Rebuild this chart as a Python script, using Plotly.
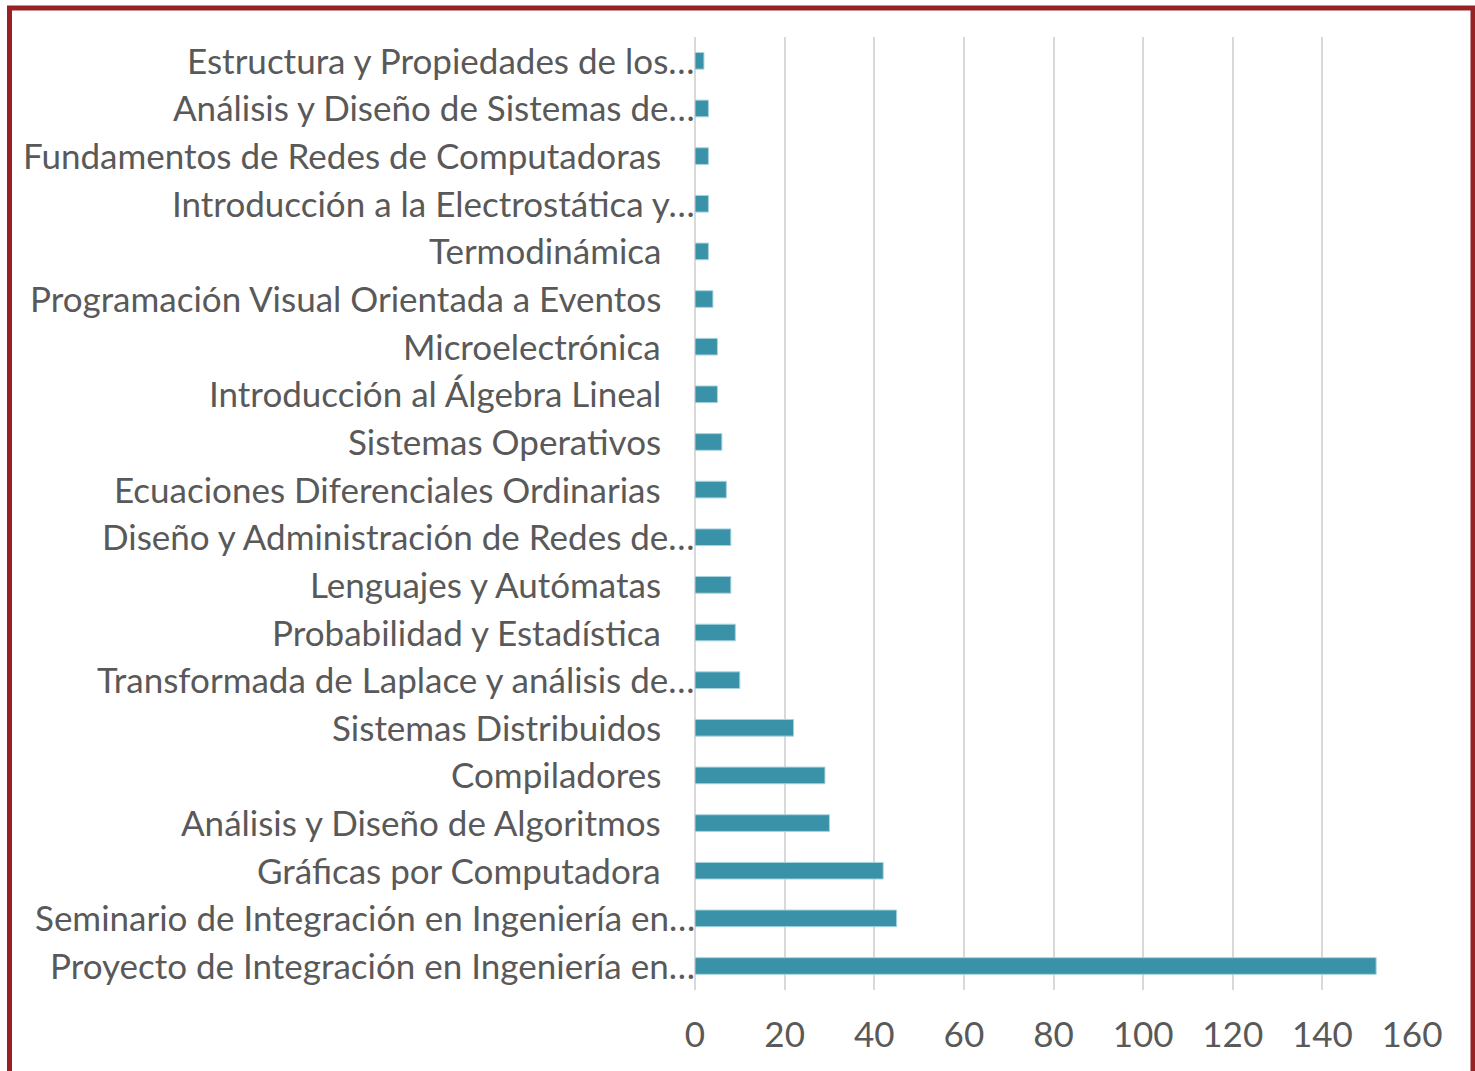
import plotly.graph_objects as go

categories = [
    "Estructura y Propiedades de los…",
    "Análisis y Diseño de Sistemas de…",
    "Fundamentos de Redes de Computadoras",
    "Introducción a la Electrostática y…",
    "Termodinámica",
    "Programación Visual Orientada a Eventos",
    "Microelectrónica",
    "Introducción al Álgebra Lineal",
    "Sistemas Operativos",
    "Ecuaciones Diferenciales Ordinarias",
    "Diseño y Administración de Redes de…",
    "Lenguajes y Autómatas",
    "Probabilidad y Estadística",
    "Transformada de Laplace y análisis de…",
    "Sistemas Distribuidos",
    "Compiladores",
    "Análisis y Diseño de Algoritmos",
    "Gráficas por Computadora",
    "Seminario de Integración en Ingeniería en…",
    "Proyecto de Integración en Ingeniería en…",
]
values = [2, 3, 3, 3, 3, 4, 5, 5, 6, 7, 8, 8, 9, 10, 22, 29, 30, 42, 45, 152]
x_ticks = [0, 20, 40, 60, 80, 100, 120, 140, 160]

W, H = 1475, 1071
L, R, T, B = 695, 63, 37, 81
pw, ph = W - L - R, H - T - B

FONT = "Lato"
TXT = "#595959"
FS = 35

fig = go.Figure()
fig.add_trace(go.Bar(
    x=values, y=categories, orientation="h",
    width=0.35,
    marker=dict(color="#3a92a8", line=dict(color="#a9d4de", width=1)),
    hoverinfo="x+y",
))

annotations = []
for c in categories:
    trunc = c.endswith("…")
    annotations.append(dict(
        x=0, y=c, xref="x", yref="y", text=c, showarrow=False,
        xanchor="right", yanchor="middle",
        xshift=2 if trunc else -32,
        yshift=1,
        font=dict(family=FONT, size=FS, color=TXT),
    ))

def px_to_paper_x(px):
    return (px - L) / pw

def px_to_paper_y(py):
    return (H - B - py) / ph

fig.update_layout(
    width=W, height=H,
    margin=dict(l=L, r=R, t=T, b=B),
    paper_bgcolor="white", plot_bgcolor="white",
    showlegend=False,
    annotations=annotations,
    xaxis=dict(
        range=[0, 160], tickvals=x_ticks,
        showgrid=True, gridcolor="#d9d9d9", gridwidth=2,
        zeroline=True, zerolinecolor="#d9d9d9", zerolinewidth=2,
        showline=False, ticks="",
        tickfont=dict(family=FONT, size=FS, color=TXT),
        ticklabelstandoff=21,
        fixedrange=True,
    ),
    yaxis=dict(
        categoryorder="array", categoryarray=categories,
        autorange="reversed",
        showticklabels=False, showgrid=False, zeroline=False,
        showline=False, ticks="", fixedrange=True,
    ),
    shapes=[dict(
        type="rect", xref="paper", yref="paper",
        x0=px_to_paper_x(9.5), x1=px_to_paper_x(1473),
        y0=px_to_paper_y(1090), y1=px_to_paper_y(8),
        line=dict(color="#962226", width=5),
        fillcolor="rgba(0,0,0,0)", layer="above",
    )],
)

fig.write_html(
    "out.html",
    config={"displayModeBar": False},
    post_script="document.body.style.margin='0';document.body.style.overflow='hidden';",
)
